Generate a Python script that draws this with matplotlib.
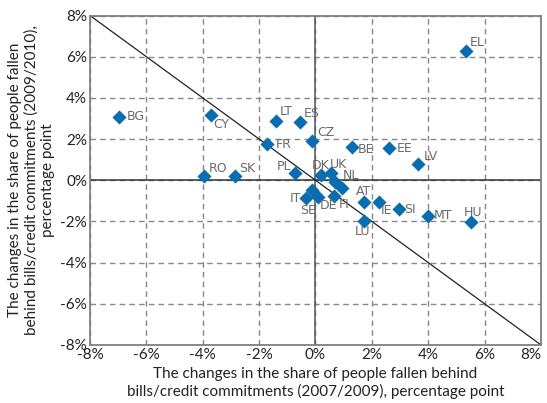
import numpy as np
import matplotlib
matplotlib.use('Agg')
import matplotlib.pyplot as plt
from matplotlib.ticker import FuncFormatter

plt.rcParams['axes.unicode_minus'] = False
plt.rcParams['font.family'] = ['Lato', 'DejaVu Sans']

# country codes and changes (percentage points)
countries = ['BG', 'CY', 'LT', 'ES', 'FR', 'CZ', 'BE', 'EE', 'LV', 'EL',
             'RO', 'SK', 'PL', 'DK', 'UK', 'NL', '', 'SE', 'IT', 'DE',
             'FI', 'AT', 'IE', 'SI', 'MT', 'HU', 'LU']
chg_0709 = [-6.98, -3.72, -1.41, -0.56, -1.71, -0.12, 1.30, 2.62, 3.64, 5.34,
            -3.94, -2.85, -0.73, 0.18, 0.56, 0.68, 0.95, -0.12, -0.33, 0.10,
            0.65, 1.71, 2.27, 2.98, 4.00, 5.50, 1.71]
chg_0910 = [3.08, 3.17, 2.89, 2.84, 1.76, 1.92, 1.63, 1.55, 0.79, 6.29,
            0.22, 0.22, 0.33, 0.25, 0.33, -0.07, -0.39, -0.48, -0.88, -0.80,
            -0.77, -1.04, -1.04, -1.41, -1.72, -2.04, -1.97]
ticks = [-8, -6, -4, -2, 0, 2, 4, 6, 8]

# label placement (offset in pixels, horizontal alignment)
label_pos = {
    'BG': (8, 0, 'left'), 'CY': (3, -10, 'left'), 'LT': (4, 9, 'left'),
    'ES': (4, 8, 'left'), 'FR': (8, 0, 'left'), 'CZ': (5, 8, 'left'),
    'BE': (6, -3, 'left'), 'EE': (7, 0, 'left'), 'LV': (6, 7, 'left'),
    'EL': (4, 8, 'left'), 'RO': (4, 7, 'left'), 'SK': (4, 7, 'left'),
    'PL': (-4, 7, 'right'), 'DK': (0, 10, 'center'), 'UK': (-1, 9, 'left'),
    'NL': (8, 6, 'left'), 'SE': (-4, -20, 'center'), 'IT': (-5, 0, 'right'),
    'DE': (1, -9, 'left'), 'FI': (5, -8, 'left'), 'AT': (0, 10, 'center'),
    'IE': (1, -9, 'left'), 'SI': (5, 0, 'left'), 'MT': (6, 0, 'left'),
    'HU': (2, 10, 'center'), 'LU': (-1, -11, 'center'),
}

fig = plt.figure(figsize=(5.47, 4.03), dpi=100)
ax = fig.add_axes([0.1645, 0.144, 0.8245, 0.8175])

ax.set_xlim(-8, 8)
ax.set_ylim(-8, 8)
ax.set_xticks(ticks)
ax.set_yticks(ticks)
fmt = FuncFormatter(lambda v, p: f'{v:.0f}%')
ax.xaxis.set_major_formatter(fmt)
ax.yaxis.set_major_formatter(fmt)

ax.grid(True, color='#888888', linestyle=(0, (4, 3)), linewidth=1.0)
ax.tick_params(length=0, labelsize=11, colors='#222222', pad=2)
for s in ax.spines.values():
    s.set_color('#808080')
    s.set_linewidth(1.3)

ax.axhline(0, color='#333333', lw=1.1, zorder=2)
ax.axvline(0, color='#555555', lw=1.1, zorder=2)
ax.plot([-8, 8], [8, -8], color='#222222', lw=0.9, zorder=2)

ax.scatter(chg_0709, chg_0910, marker='D', s=52, color='#0A6DB0', zorder=3,
           linewidths=0)

for c, x, y in zip(countries, chg_0709, chg_0910):
    if not c:
        continue
    dx, dy, ha = label_pos[c]
    ax.annotate(c, xy=(x, y), xytext=(dx, dy), textcoords='offset pixels',
                ha=ha, va='center', fontsize=9, color='#6a6a6a',
                family=['Liberation Sans Narrow', 'DejaVu Sans'], zorder=4)

ax.set_xlabel('The changes in the share of people fallen behind\n'
              'bills/credit commitments (2007/2009), percentage point',
              fontsize=11, color='#222222', labelpad=4, linespacing=1.25)
ax.set_ylabel('The changes in the share of people fallen\n'
              'behind bills/credit commitments (2009/2010),\n'
              'percentage point',
              fontsize=11, color='#222222', labelpad=4, linespacing=1.2)

# keep the last x tick label inside the picture
ax.get_xticklabels()[-1].set_ha('right')

plt.savefig('out.png', dpi=100)
